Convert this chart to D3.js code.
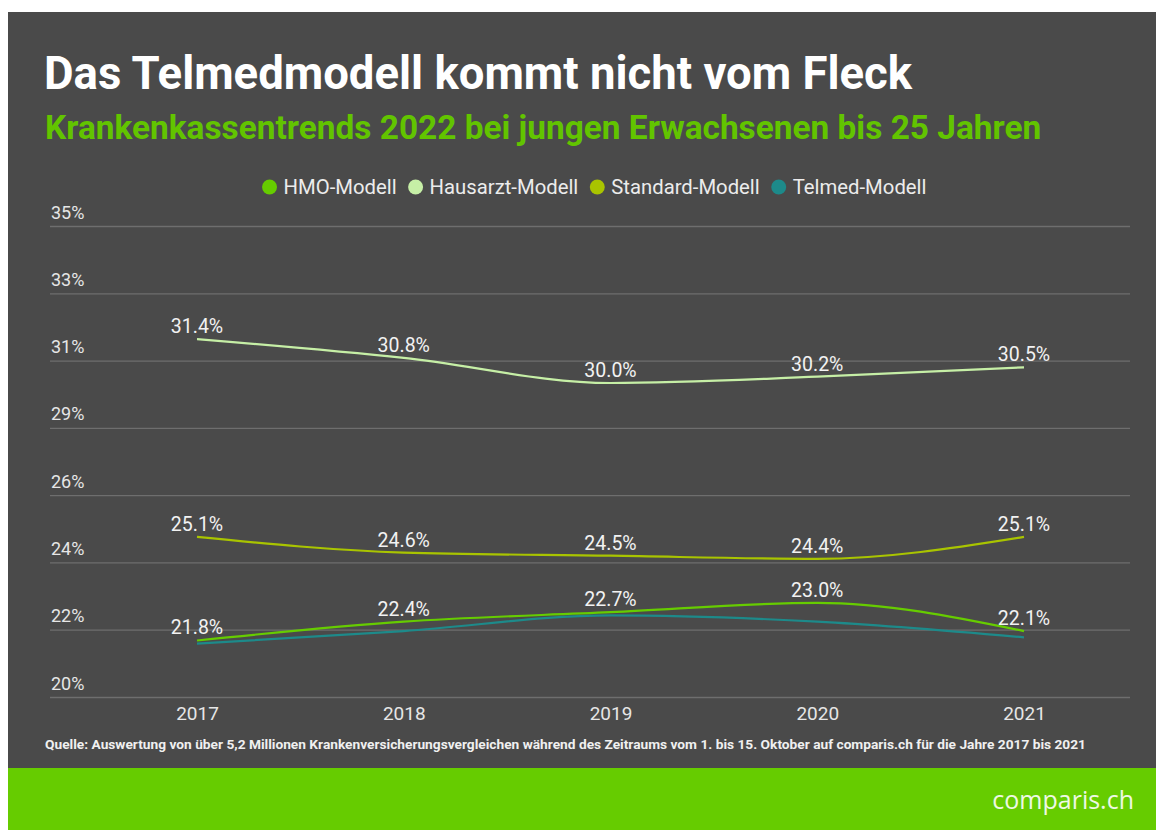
<!DOCTYPE html>
<html><head><meta charset="utf-8">
<script src="https://cdn.jsdelivr.net/npm/d3@7"></script>
<style>html,body{margin:0;padding:0;background:#fff;}svg{display:block;}</style>
</head><body>
<svg id="c" width="1156" height="830"></svg>
<script>
const years = ["2017","2018","2019","2020","2021"];
const hmo = [21.8, 22.4, 22.7, 23.0, 22.1];
const hausarzt = [31.4, 30.8, 30.0, 30.2, 30.5];
const standard = [25.1, 24.6, 24.5, 24.4, 25.1];
const telmed = [21.7, 22.1, 22.6, 22.4, 21.9];
const seriesNames = ["HMO-Modell","Hausarzt-Modell","Standard-Modell","Telmed-Modell"];
const seriesColors = ["#66cc00","#c6efa6","#a9c400","#1d8a8a"];
const yTickLabels = ["20%","22%","24%","26%","29%","31%","33%","35%"];
const title = "Das Telmedmodell kommt nicht vom Fleck";
const subtitle = "Krankenkassentrends 2022 bei jungen Erwachsenen bis 25 Jahren";
const source = "Quelle: Auswertung von über  5,2 Millionen Krankenversicherungsvergleichen während des Zeitraums vom 1. bis 15. Oktober auf comparis.ch für die Jahre 2017 bis 2021";

const svg = d3.select("#c");
const W = 1156, H = 830;
svg.append("rect").attr("x",0).attr("y",0).attr("width",W).attr("height",H).attr("fill","#fff");
svg.append("rect").attr("x",8).attr("y",12).attr("width",W-8).attr("height",756).attr("fill","#4a4a4a");
svg.append("rect").attr("x",8).attr("y",768).attr("width",W-8).attr("height",62).attr("fill","#66cc00");

svg.append("text").attr("x",44).attr("y",89).text(title)
  .attr("font-family","Roboto").attr("font-weight",700).attr("font-size",45.5).attr("fill","#ffffff");
svg.append("text").attr("x",45).attr("y",139).text(subtitle)
  .attr("font-family","Roboto").attr("font-weight",700).attr("font-size",33.4).attr("fill","#62c400");

const x = d3.scalePoint().domain(years).range([197,1024]);
const y = d3.scaleLinear().domain([20,35]).range([697,226]);
const yTicks = d3.range(8).map(i => 20 + i*15/7);

const yAxis = d3.axisRight(y).tickValues(yTicks).tickSize(1080)
  .tickFormat((d,i) => yTickLabels[i]);
const gy = svg.append("g").attr("transform","translate(50,0)").call(yAxis);
gy.select(".domain").remove();
gy.selectAll(".tick line").attr("stroke","#6e6e6e").attr("stroke-width",1.3);
gy.selectAll(".tick text").attr("x",1).attr("dy",-8).attr("text-anchor","start")
  .attr("font-family","Roboto").attr("font-size",18).attr("fill","#e6e6e6");

const xAxis = d3.axisBottom(x).tickSize(0).tickPadding(0);
const gx = svg.append("g").attr("transform","translate(0,707)").call(xAxis);
gx.select(".domain").remove();
gx.selectAll(".tick text").attr("dy","0.7em").attr("font-family","Roboto").attr("font-size",19).attr("fill","#e6e6e6");

const data = [hmo, hausarzt, standard, telmed];
const line = d3.line().x((d,i)=>x(years[i])).y(d=>y(d)).curve(d3.curveMonotoneX);
[3,1,2,0].forEach(k=>{
  svg.append("path").datum(data[k]).attr("d",line).attr("fill","none")
    .attr("stroke",seriesColors[k]).attr("stroke-width",2.2);
});
[0,1,2].forEach(k=>{
  svg.append("g").selectAll("text").data(data[k]).join("text")
    .attr("x",(d,i)=>x(years[i])).attr("y",d=>y(d)-6)
    .attr("text-anchor","middle").attr("font-family","Roboto").attr("font-size",19.5)
    .attr("fill","#f2f2f2").text(d=>d.toFixed(1)+"%");
});

// legend
const lg = svg.append("g");
let cx = 0;
seriesNames.forEach((n,i)=>{
  const g = lg.append("g");
  g.append("circle").attr("cx",8).attr("cy",0).attr("r",7.5).attr("fill",seriesColors[i]);
  const t = g.append("text").attr("x",22).attr("y",0).attr("dy","0.35em").text(n)
    .attr("font-family","Roboto").attr("font-size",20.3).attr("fill","#ececec");
  const w = 22 + t.node().getComputedTextLength();
  g.attr("transform",`translate(${cx},187)`);
  cx += w + 11;
});
const totalW = cx - 11;
lg.attr("transform",`translate(${594 - totalW/2},0)`);

svg.append("text").attr("x",45).attr("y",749).text(source)
  .attr("font-family","Roboto").attr("font-weight",700).attr("font-size",12.5).attr("fill","#f0f0f0")
  .attr("textLength",1041).attr("lengthAdjust","spacingAndGlyphs");

svg.append("text").attr("x",1134).attr("y",809).attr("text-anchor","end").text("comparis.ch")
  .attr("font-family","Open Sans").attr("font-size",25).attr("fill","#eef8e4");
</script>
</body></html>
